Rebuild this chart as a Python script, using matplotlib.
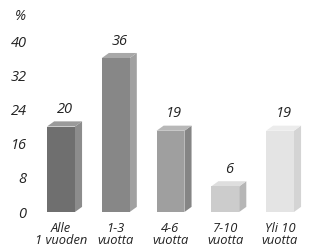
import matplotlib
matplotlib.use("Agg")
import matplotlib.pyplot as plt
from matplotlib.patches import Polygon, Rectangle

categories = ["Alle\n1 vuoden", "1-3\nvuotta", "4-6\nvuotta", "7-10\nvuotta", "Yli 10\nvuotta"]
values = [20, 36, 19, 6, 19]
yticks = [0, 8, 16, 24, 32, 40]
front_colors = ["#6f6f6f", "#878787", "#9f9f9f", "#cccccc", "#e4e4e4"]
side_colors = ["#8c8c8c", "#a0a0a0", "#858585", "#b6b6b6", "#d4d4d4"]
top_colors = ["#9a9a9a", "#a8a8a8", "#b8b8b8", "#dedede", "#ececec"]

FONT = "Open Sans"
W, H = 311, 249
fig = plt.figure(figsize=(W / 100, H / 100), dpi=100)
ax = fig.add_axes([33.6 / W, 37 / H, 273.75 / W, 171 / H])
ax.set_xlim(-0.5, 4.5)
ax.set_ylim(0, 40)
for s in ax.spines.values():
    s.set_visible(False)

bw = 0.51
dx = 0.13
dy = 1.2
for i, v in enumerate(values):
    x0 = i - bw / 2
    x1 = i + bw / 2
    ax.add_patch(Rectangle((x0, 0), bw, v, facecolor=front_colors[i], edgecolor="none", clip_on=False, zorder=3))
    ax.add_patch(Polygon([(x1, 0), (x1 + dx, dy), (x1 + dx, v + dy), (x1, v)],
                         closed=True, facecolor=side_colors[i], edgecolor="none", clip_on=False, zorder=2))
    ax.add_patch(Polygon([(x0, v), (x0 + dx, v + dy), (x1 + dx, v + dy), (x1, v)],
                         closed=True, facecolor=top_colors[i], edgecolor="none", clip_on=False, zorder=2))
    ax.text(i + dx / 2, v + dy + 2.8, str(v), ha="center", va="center", fontsize=10.5,
            style="italic", family=FONT, color="#222222", clip_on=False)

ax.set_yticks(yticks)
ax.set_yticklabels([str(t) for t in yticks], fontsize=10.5, style="italic", family=FONT, color="#222222")
ax.set_xticks(range(len(categories)))
ax.set_xticklabels(categories, fontsize=9.3, style="italic", family=FONT, color="#222222", linespacing=0.9)
ax.tick_params(axis="both", length=0)
ax.tick_params(axis="y", pad=5)
ax.tick_params(axis="x", pad=7)
fig.text(20 / W, 1 - 17 / H, "%", ha="center", va="center", fontsize=10, style="italic", family=FONT, color="#222222")

fig.savefig("out.png", dpi=100)
